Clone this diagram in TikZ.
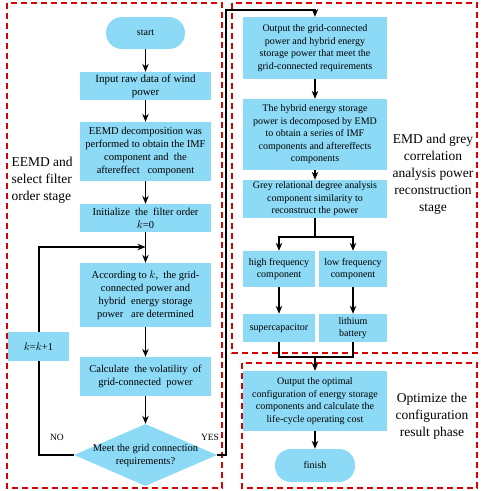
\documentclass[tikz,border=0pt]{standalone}
\usepackage{fontspec}
\setmainfont{Liberation Serif}
\usetikzlibrary{arrows.meta,shapes.geometric}
\definecolor{boxblue}{RGB}{140,218,245}

\begin{document}
\begin{tikzpicture}[x=1pt,y=-1pt,
        box/.style={fill=boxblue,align=center,inner sep=1pt,font=\fontsize{10}{12.5}\selectfont},
        lbox/.style={box,font=\fontsize{10.5}{13}\selectfont},
        term/.style={box,rounded corners=16pt},
        arr/.style={-{Stealth[length=8pt,width=6.5pt]},line width=1.2pt},
        link/.style={line width=1.2pt},
        frame/.style={red!85!black,dashed,dash pattern=on 6pt off 4pt,line width=1.1pt},
        stage/.style={font=\fontsize{13.5}{17}\selectfont}]
        \useasboundingbox (0,0) rectangle (484,491);

        % stage frames
        \draw[frame] (7,3) rectangle (222,488);
        \draw[frame] (232,3) rectangle (477,353);
        \draw[frame] (242,363) rectangle (477,488);

        % left column
        \node[term,minimum width=79pt,minimum height=32pt] (start) at (145.5,33) {start};
        \node[lbox,font=\fontsize{11}{13}\selectfont,minimum width=131pt,minimum height=28pt] (raw) at (145.5,86) {Input raw data of wind\\power};
        \node[lbox,minimum width=131pt,minimum height=59pt] (eemd) at (145.5,151.5) {EEMD decomposition was\\performed to obtain the IMF\\component and~ the\\aftereffect~~ component};
        \node[lbox,minimum width=131pt,minimum height=28pt] (init) at (145.5,218) {Initialize~ the~ filter order\\$k$=0};
        \node[lbox,minimum width=131pt,minimum height=64pt] (accord) at (145.5,295) {According to $k$,~ the grid-\\connected power and\\hybrid~ energy storage\\power~~ are determined};
        \node[lbox,minimum width=131pt,minimum height=39pt] (calc) at (145.5,376.5) {Calculate~ the volatility~ of\\grid-connected~ power};
        \node[diamond,fill=boxblue,inner sep=0pt,minimum width=143pt,minimum height=62pt] (meet) at (145.5,455) {};
        \node[align=center,font=\fontsize{10.5}{13}\selectfont] (meettxt) at (meet) {Meet the grid connection\\requirements?};

        % right column
        \node[box,minimum width=144pt,minimum height=62pt] (out1) at (315,48) {Output the grid-connected\\power and hybrid energy\\storage power that meet the\\grid-connected requirements};
        \node[box,minimum width=144pt,minimum height=71pt] (hyb) at (315,134.5) {The hybrid energy storage\\power is decomposed by EMD\\to obtain a series of IMF\\components and aftereffects\\components};
        \node[box,minimum width=144pt,minimum height=38pt] (grey) at (315,199) {Grey relational degree analysis\\component similarity to\\reconstruct the power};
        \node[box,minimum width=72pt,minimum height=36pt] (high) at (279,269) {high frequency\\component};
        \node[box,minimum width=68pt,minimum height=36pt] (low) at (353,269) {low frequency\\component};
        \node[box,minimum width=72pt,minimum height=28pt] (sup) at (279,328) {supercapacitor};
        \node[box,minimum width=68pt,minimum height=28pt] (lith) at (353,328) {lithium\\battery};
        \node[box,minimum width=144pt,minimum height=60pt] (optim) at (315,401) {Output the optimal\\configuration of energy storage\\components and calculate the\\life-cycle operating cost};
        \node[term,minimum width=80pt,minimum height=33pt] (finish) at (315,465.5) {finish};

        % left flow
        \draw[arr] (start) -- (raw);
        \draw[arr] (raw) -- (eemd);
        \draw[arr] (eemd) -- (init);
        \draw[arr] (init) -- (accord);
        \draw[arr] (accord) -- (calc);
        \draw[arr] (calc) -- (meet);

        % NO loop
        \coordinate (noa) at (39,455);
        \coordinate (nob) at (145.5,247);
        \draw[arr] (meet.west) -- (noa) |- (nob);
        \node[lbox,minimum width=61pt,minimum height=29pt] (inc) at (38.5,346.5) {$k$=$k$+1};
        \node[font=\fontsize{9.5}{11}\selectfont] (no) at (57,437) {NO};

        % YES path
        \coordinate (ya) at (226,10);
        \draw[arr] (meet.east) -| (ya) -| (out1.north);
        \node[font=\fontsize{9.5}{11}\selectfont] (yes) at (210,437) {YES};

        % right flow
        \draw[arr] (out1) -- (hyb);
        \draw[arr] (hyb) -- (grey);
        \coordinate (gb) at (315,237);
        \draw[link] (grey.south) -- (gb);
        \draw[arr] (gb) -| (high.north);
        \draw[arr] (gb) -| (low.north);
        \draw[arr] (high) -- (sup);
        \draw[arr] (low) -- (lith);
        \coordinate (mb) at (315,357);
        \draw[link] (sup.south) |- (mb) -| (lith.south);
        \draw[arr] (mb) -- (optim.north);
        \draw[arr] (optim) -- (finish);

        % stage labels
        \node[stage,align=left,anchor=west] (s1) at (8,180) {EEMD and\\select filter\\order stage};
        \node[stage,align=center] (s2) at (433,174) {EMD and grey\\correlation\\analysis power\\reconstruction\\stage};
        \node[stage,align=center] (s3) at (432,416) {Optimize the\\configuration\\result phase};
    \end{tikzpicture}
\end{document}
